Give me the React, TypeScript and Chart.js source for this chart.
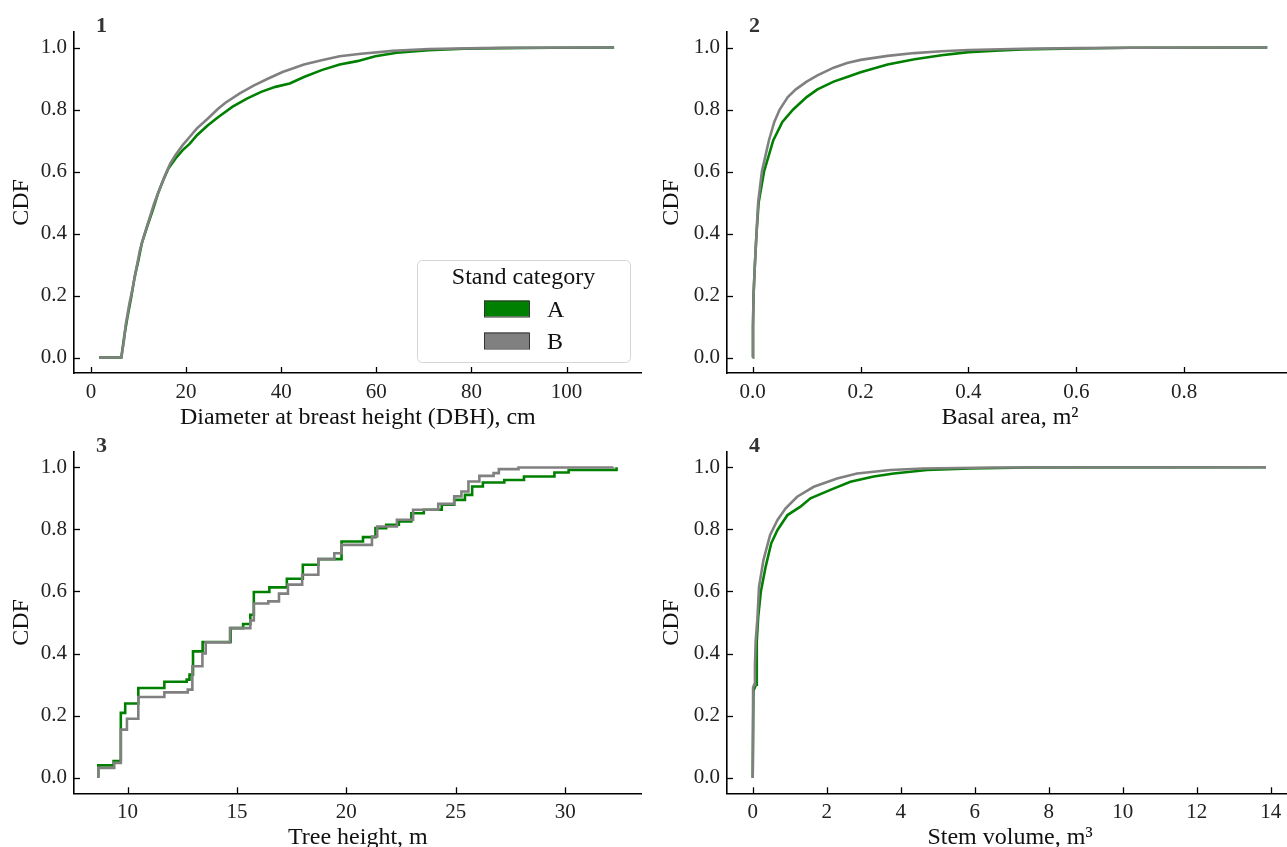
import React, { useEffect, useRef } from "react";
import { Chart, registerables } from "chart.js";

Chart.register(...registerables);

const FONT = '"Liberation Serif", "Times New Roman", Times, serif';
const GREEN = "#008000";
const GRAY = "#808080";

// ---------- Tick labels ----------
const cdfTicks = [0, 0.2, 0.4, 0.6, 0.8, 1.0];
const dbhTicks = [0, 20, 40, 60, 80, 100];
const basalTicks = [0, 0.2, 0.4, 0.6, 0.8];
const heightTicks = [10, 15, 20, 25, 30];
const volumeTicks = [0, 2, 4, 6, 8, 10, 12, 14];

const seriesLabels = ["A", "B"];
const legendTitle = "Stand category";

// ---------- Panel 1: DBH ----------
const dbhA_x = [1.7, 6.4, 7.0, 7.7, 8.5, 9.2, 10.0, 10.7, 11.8, 13.0, 14.1, 15.2, 16.3, 17.8, 19.3, 20.8, 22.3, 24.6, 26.8, 29.8, 32.8, 35.8, 38.8, 41.8, 44.8, 48.5, 52.3, 56.0, 59.8, 64.3, 71, 78.5, 86, 97, 110];
const dbhA_y = [0, 0, 0.067, 0.131, 0.196, 0.26, 0.314, 0.368, 0.421, 0.475, 0.529, 0.572, 0.61, 0.642, 0.669, 0.69, 0.717, 0.749, 0.776, 0.809, 0.835, 0.857, 0.873, 0.884, 0.905, 0.927, 0.945, 0.956, 0.972, 0.983, 0.991, 0.996, 0.998, 0.999, 1.0];
const dbhB_x = [1.7, 6.4, 6.97, 7.3, 8.1, 8.84, 9.6, 10.3, 11.1, 12.2, 13.3, 14.5, 15.6, 16.7, 17.8, 19.3, 20.8, 22.3, 24.6, 26.8, 28.3, 31.3, 34.3, 37.3, 40.3, 44.8, 48.5, 52.3, 56.8, 63.5, 71, 82.2, 89.7, 110];
const dbhB_y = [0, 0, 0.056, 0.104, 0.174, 0.228, 0.29, 0.346, 0.389, 0.443, 0.497, 0.545, 0.588, 0.626, 0.653, 0.685, 0.712, 0.739, 0.771, 0.803, 0.822, 0.852, 0.878, 0.9, 0.921, 0.945, 0.959, 0.972, 0.98, 0.989, 0.995, 0.998, 0.999, 1.0];

// ---------- Panel 2: Basal area ----------
const basalA_x = [0.0, 0.0005, 0.0015, 0.004, 0.007, 0.011, 0.021, 0.038, 0.055, 0.075, 0.1, 0.12, 0.15, 0.175, 0.2, 0.25, 0.3, 0.35, 0.4, 0.45, 0.5, 0.6, 0.7, 0.954];
const basalA_y = [0, 0.1, 0.2, 0.3, 0.4, 0.5, 0.6, 0.7, 0.76, 0.8, 0.84, 0.865, 0.89, 0.905, 0.92, 0.945, 0.962, 0.975, 0.985, 0.99, 0.994, 0.997, 0.999, 1.0];
const basalB_x = [0.0, 0.0005, 0.0015, 0.004, 0.007, 0.01, 0.017, 0.03, 0.04, 0.05, 0.065, 0.08, 0.1, 0.12, 0.15, 0.175, 0.2, 0.25, 0.3, 0.35, 0.4, 0.5, 0.6, 0.7, 0.954];
const basalB_y = [0, 0.1, 0.2, 0.3, 0.4, 0.5, 0.6, 0.7, 0.76, 0.8, 0.84, 0.865, 0.89, 0.91, 0.935, 0.95, 0.96, 0.973, 0.982, 0.988, 0.992, 0.996, 0.998, 0.999, 1.0];

// ---------- Panel 3: Tree height ----------
const heightA_x = [8.66, 8.66, 9.36, 9.69, 9.89, 10.49, 11.68, 12.7, 12.83, 12.99, 13.43, 14.71, 15.28, 15.61, 15.77, 16.48, 17.28, 18.01, 18.72, 19.78, 20.76, 21.33, 21.82, 22.4, 22.97, 23.54, 24.36, 24.93, 25.42, 25.75, 26.24, 27.22, 28.12, 29.51, 30.16, 32.35];
const heightA_y = [0, 0.04, 0.054, 0.209, 0.239, 0.289, 0.309, 0.316, 0.332, 0.407, 0.437, 0.482, 0.495, 0.525, 0.598, 0.613, 0.641, 0.686, 0.704, 0.761, 0.775, 0.804, 0.815, 0.825, 0.852, 0.863, 0.879, 0.895, 0.911, 0.938, 0.951, 0.959, 0.97, 0.983, 0.991, 1.0];
const heightB_x = [8.66, 8.66, 9.39, 9.69, 9.97, 10.49, 11.68, 12.75, 12.96, 13.42, 13.57, 14.68, 15.61, 15.77, 16.43, 16.92, 17.33, 17.98, 18.72, 19.45, 19.78, 21.17, 21.41, 22.31, 23.05, 24.2, 24.93, 25.26, 25.58, 26.08, 26.73, 26.97, 27.87, 32.2];
const heightB_y = [0, 0.032, 0.048, 0.155, 0.19, 0.26, 0.275, 0.284, 0.359, 0.4, 0.436, 0.482, 0.507, 0.561, 0.568, 0.593, 0.622, 0.654, 0.704, 0.723, 0.75, 0.777, 0.809, 0.831, 0.863, 0.882, 0.906, 0.922, 0.954, 0.972, 0.981, 0.994, 0.999, 1.0];

// ---------- Panel 4: Stem volume ----------
const volumeA_x = [0.0, 0.02, 0.09, 0.11, 0.15, 0.22, 0.35, 0.5, 0.67, 0.94, 1.29, 1.56, 2.1, 2.64, 3.27, 3.81, 4.71, 5.88, 7.5, 13.87];
const volumeA_y = [0, 0.28, 0.3, 0.44, 0.52, 0.6, 0.68, 0.755, 0.798, 0.846, 0.873, 0.9, 0.927, 0.953, 0.97, 0.98, 0.991, 0.996, 0.999, 1.0];
const volumeB_x = [0.0, 0.01, 0.04, 0.06, 0.08, 0.125, 0.17, 0.29, 0.47, 0.67, 0.89, 1.2, 1.65, 2.28, 2.82, 3.72, 4.6, 6.5, 13.87];
const volumeB_y = [0, 0.29, 0.3, 0.36, 0.44, 0.51, 0.615, 0.701, 0.782, 0.83, 0.868, 0.905, 0.937, 0.964, 0.98, 0.991, 0.996, 0.999, 1.0];

const pts = (xs: number[], ys: number[]) => xs.map((x, i) => ({ x, y: ys[i] }));

type PanelDef = {
  num: string;
  xTitle: string;
  xTicks: number[];
  xMin: number;
  xMax: number;
  xDec: number;
  aX: number[];
  aY: number[];
  bX: number[];
  bY: number[];
  stepped: boolean;
  legend: boolean;
  left: number;
  top: number;
  width: number;
  height: number;
  caLeft: number;
  caTop: number;
  caRight: number;
  caBottom: number;
};

const panels: PanelDef[] = [
  {
    num: "1", xTitle: "Diameter at breast height (DBH), cm", xTicks: dbhTicks, xMin: -3.55, xMax: 115.8, xDec: 0,
    aX: dbhA_x, aY: dbhA_y, bX: dbhB_x, bY: dbhB_y, stepped: false, legend: true,
    left: 0, top: 0, width: 650, height: 430, caLeft: 74, caTop: 32, caRight: 641.7, caBottom: 373,
  },
  {
    num: "2", xTitle: "Basal area, m²", xTicks: basalTicks, xMin: -0.0477, xMax: 1.0017, xDec: 1,
    aX: basalA_x, aY: basalA_y, bX: basalB_x, bY: basalB_y, stepped: false, legend: false,
    left: 650, top: 0, width: 650, height: 430, caLeft: 77, caTop: 32, caRight: 643, caBottom: 373,
  },
  {
    num: "3", xTitle: "Tree height, m", xTicks: heightTicks, xMin: 7.55, xMax: 33.5, xDec: 0,
    aX: heightA_x, aY: heightA_y, bX: heightB_x, bY: heightB_y, stepped: true, legend: false,
    left: 0, top: 423, width: 650, height: 427, caLeft: 74, caTop: 28.7, caRight: 641.7, caBottom: 370.3,
  },
  {
    num: "4", xTitle: "Stem volume, m³", xTicks: volumeTicks, xMin: -0.695, xMax: 14.6, xDec: 0,
    aX: volumeA_x, aY: volumeA_y, bX: volumeB_x, bY: volumeB_y, stepped: false, legend: false,
    left: 650, top: 423, width: 650, height: 427, caLeft: 77, caTop: 28.7, caRight: 643, caBottom: 370.3,
  },
];

const decor = {
  id: "decor",
  afterDraw(chart: any, _args: any, opts: any) {
    const ctx = chart.ctx as CanvasRenderingContext2D;
    const ca = chart.chartArea;
    const xs = chart.scales.x;
    const ys = chart.scales.y;
    ctx.save();
    ctx.strokeStyle = "#000";
    ctx.lineWidth = 1.3;
    xs.ticks.forEach((t: any) => {
      const px = Math.round(xs.getPixelForValue(t.value)) + 0.5;
      ctx.beginPath();
      ctx.moveTo(px, ca.bottom);
      ctx.lineTo(px, ca.bottom - 6);
      ctx.stroke();
    });
    ys.ticks.forEach((t: any) => {
      const py = Math.round(ys.getPixelForValue(t.value)) + 0.5;
      ctx.beginPath();
      ctx.moveTo(ca.left, py);
      ctx.lineTo(ca.left + 6, py);
      ctx.stroke();
    });
    // panel number
    ctx.fillStyle = "#333";
    ctx.font = `bold 22px ${FONT}`;
    ctx.textAlign = "left";
    ctx.textBaseline = "alphabetic";
    ctx.fillText(opts.num, ca.left + 22, ca.top);
    // legend
    if (opts.legend) {
      const bw = 213;
      const bh = 102;
      const bx = ca.right - 11.7 - bw;
      const by = ca.bottom - 11 - bh;
      ctx.beginPath();
      (ctx as any).roundRect(bx + 0.5, by + 0.5, bw, bh, 5);
      ctx.fillStyle = "rgba(255,255,255,0.85)";
      ctx.fill();
      ctx.strokeStyle = "#d4d4d4";
      ctx.lineWidth = 1;
      ctx.stroke();
      ctx.fillStyle = "#111";
      ctx.font = `24px ${FONT}`;
      ctx.textAlign = "center";
      ctx.fillText(legendTitle, bx + bw / 2, by + 24);
      chart.data.datasets.forEach((ds: any, i: number) => {
        const py = by + 40.5 + i * 32;
        ctx.fillStyle = ds.borderColor;
        ctx.fillRect(bx + 67, py, 45, 16);
        ctx.strokeStyle = "#333";
        ctx.lineWidth = 1;
        ctx.strokeRect(bx + 67.5, py + 0.5, 45, 16);
        ctx.fillStyle = "#111";
        ctx.textAlign = "left";
        ctx.fillText(ds.label, bx + 130, by + 57 + i * 31.5);
      });
    }
    ctx.restore();
  },
};

function Panel({ def }: { def: PanelDef }) {
  const ref = useRef<HTMLCanvasElement>(null);
  useEffect(() => {
    if (!ref.current) return;
    const tickFont = { family: FONT, size: 21 };
    const titleFont = { family: FONT, size: 24, lineHeight: 1 };
    const chart = new Chart(ref.current, {
      type: "line",
      data: {
        datasets: [
          {
            label: seriesLabels[0],
            data: pts(def.aX, def.aY),
            borderColor: GREEN,
            backgroundColor: GREEN,
            borderWidth: 2.6,
            pointRadius: 0,
            stepped: def.stepped ? "before" : false,
            tension: 0,
            fill: false,
            order: 1,
          },
          {
            label: seriesLabels[1],
            data: pts(def.bX, def.bY),
            borderColor: GRAY,
            backgroundColor: GRAY,
            borderWidth: 2.6,
            pointRadius: 0,
            stepped: def.stepped ? "before" : false,
            tension: 0,
            fill: false,
            order: 0,
          },
        ],
      },
      options: {
        responsive: false,
        animation: false,
        events: [],
        layout: {
          padding: { left: 0, top: def.caTop, right: def.width - def.caRight, bottom: 0 },
        },
        plugins: {
          legend: { display: false },
          tooltip: { enabled: false },
          decor: { num: def.num, legend: def.legend },
        } as any,
        scales: {
          x: {
            type: "linear",
            min: def.xMin,
            max: def.xMax,
            afterBuildTicks: (s: any) => {
              s.ticks = def.xTicks.map((v) => ({ value: v }));
            },
            afterFit: (s: any) => {
              s.height = def.height - def.caBottom;
            },
            grid: { display: false, drawTicks: false },
            border: { display: true, color: "#000", width: 1.6 },
            ticks: {
              color: "#222",
              font: tickFont,
              padding: 7,
              autoSkip: false,
              maxRotation: 0,
              callback: (v: any) => Number(v).toFixed(def.xDec),
            },
            title: {
              display: true,
              text: def.xTitle,
              color: "#111",
              font: titleFont,
              padding: { top: 0, bottom: 0 },
            },
          },
          y: {
            type: "linear",
            min: -0.05,
            max: 1.05,
            afterBuildTicks: (s: any) => {
              s.ticks = cdfTicks.map((v) => ({ value: v }));
            },
            afterFit: (s: any) => {
              s.width = def.caLeft;
            },
            grid: { display: false, drawTicks: false },
            border: { display: true, color: "#000", width: 1.6 },
            ticks: {
              color: "#222",
              font: tickFont,
              padding: 7,
              autoSkip: false,
              callback: (v: any) => Number(v).toFixed(1),
            },
            title: {
              display: true,
              text: "CDF",
              color: "#111",
              font: titleFont,
              padding: { top: 10, bottom: 0 },
            },
          },
        },
      } as any,
      plugins: [decor as any],
    });
    return () => chart.destroy();
  }, [def]);
  return (
    <canvas
      ref={ref}
      width={def.width}
      height={def.height}
      style={{ position: "absolute", left: def.left, top: def.top, width: def.width, height: def.height }}
    />
  );
}

export default function App() {
  return (
    <div
      style={{
        position: "fixed",
        left: 0,
        top: 0,
        width: 1287,
        height: 847,
        overflow: "hidden",
        background: "#fff",
      }}
    >
      {panels.map((p) => (
        <Panel key={p.num} def={p} />
      ))}
    </div>
  );
}
